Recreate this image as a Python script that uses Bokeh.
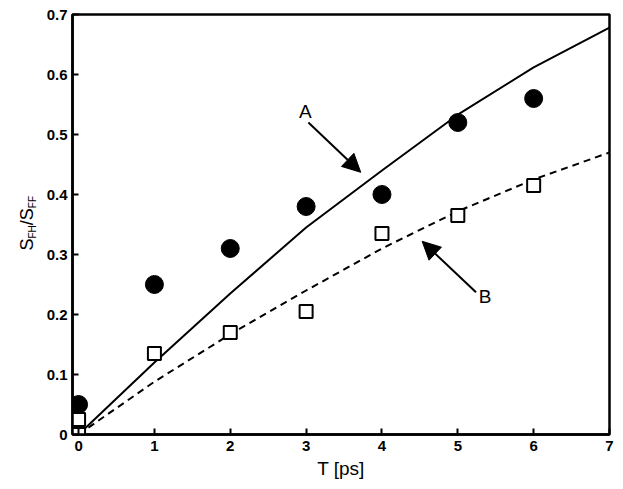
import math
from bokeh.plotting import figure
from bokeh.layouts import row
from bokeh.models import Range1d, FixedTicker, Label, Arrow, NormalHead
from bokeh.core.properties import value
from bokeh.embed import file_html
from bokeh.resources import INLINE

# model curves
t_model = [0, 1, 2, 3, 4, 5, 6, 7]
model_a = [0.0, 0.12, 0.235, 0.345, 0.44, 0.533, 0.612, 0.678]
model_b = [0.0, 0.088, 0.167, 0.24, 0.31, 0.372, 0.425, 0.47]

# measured points
t_circ = [0, 1, 2, 3, 4, 5, 6]
circ_vals = [0.05, 0.25, 0.31, 0.38, 0.40, 0.52, 0.56]
t_sq = [0, 0, 1, 2, 3, 4, 5, 6]
sq_vals = [0.0, 0.025, 0.135, 0.17, 0.205, 0.335, 0.365, 0.415]

x_ticks = [0, 1, 2, 3, 4, 5, 6, 7]
y_ticks = [0, 0.1, 0.2, 0.3, 0.4, 0.5, 0.6, 0.7]
y_tick_labels = ["0", "0.1", "0.2", "0.3", "0.4", "0.5", "0.6", "0.7"]

FONT = "Liberation Sans"
LAB_W = 43

# ---- main plot ----
p = figure(frame_width=537, frame_height=420,
           min_border_left=27, min_border_right=13, min_border_top=14, min_border_bottom=55,
           x_range=Range1d(-0.08, 7.0), y_range=Range1d(0, 0.7),
           output_backend="svg", toolbar_location=None)

p.grid.visible = False
p.outline_line_color = "black"
p.outline_line_width = 2.5
p.background_fill_color = "white"
p.border_fill_color = "white"

for ax in (p.xaxis[0], p.yaxis[0]):
    ax.axis_line_width = 2.5
    ax.major_tick_line_width = 2
    ax.major_tick_in = 6
    ax.major_tick_out = 0
    ax.minor_tick_line_color = None
    ax.major_label_text_font = FONT
    ax.major_label_text_font_size = "15px"
    ax.major_label_text_font_style = "bold"
    ax.major_label_text_color = "black"

p.xaxis.ticker = FixedTicker(ticks=x_ticks)
p.yaxis.ticker = FixedTicker(ticks=y_ticks)
p.yaxis.major_label_overrides = {v: s for v, s in zip(y_ticks, y_tick_labels)}
p.xaxis.major_label_standoff = 6
p.yaxis.major_label_standoff = 5

p.xaxis.axis_label = "T [ps]"
p.xaxis.axis_label_text_font = FONT
p.xaxis.axis_label_text_font_size = "19px"
p.xaxis.axis_label_text_font_style = "normal"
p.xaxis.axis_label_text_color = "black"
p.xaxis.axis_label_standoff = 4

# curves
p.line(t_model, model_a, line_color="black", line_width=2)
p.line(t_model, model_b, line_color="black", line_width=2, line_dash="7 5")

# points
p.scatter(t_circ, circ_vals, marker="circle", size=18, fill_color="black", line_color="black")
p.scatter(t_sq, sq_vals, marker="square", size=13, fill_color="white", line_color="black", line_width=2)

# arrows and labels
p.add_layout(Arrow(end=NormalHead(size=18, fill_color="black", line_color="black"),
                   x_start=3.03, y_start=0.52, x_end=3.72, y_end=0.437,
                   line_width=2, line_color="black"))
p.add_layout(Arrow(end=NormalHead(size=18, fill_color="black", line_color="black"),
                   x_start=5.24, y_start=0.237, x_end=4.53, y_end=0.322,
                   line_width=2, line_color="black"))
p.add_layout(Label(x=2.99, y=0.539, text="A", text_font=FONT, text_font_size="19px",
                   text_align="center", text_baseline="middle", text_color="black"))
p.add_layout(Label(x=5.36, y=0.2305, text="B", text_font=FONT, text_font_size="19px",
                   text_align="center", text_baseline="middle", text_color="black"))

# ---- y-axis title strip: S_FH / S_FF (rotated, centre-anchored pieces) ----
lab = figure(frame_width=LAB_W, frame_height=489, x_range=Range1d(0, LAB_W), y_range=Range1d(0, 489),
             min_border=0, output_backend="svg", toolbar_location=None)
lab.axis.visible = False
lab.grid.visible = False
lab.outline_line_color = None
lab.background_fill_color = "white"
lab.border_fill_color = "white"

pieces = ["S", "FH", "/", "S", "FF"]
sizes = ["18px", "10px", "18px", "18px", "10px"]
centre_x = [26.7, 31.8, 26.7, 26.7, 31.8]
advance = [12.0, 13.3, 5.0, 12.0, 12.2]
ys = []
yy = 489 - 236
for a in advance:
    ys.append(yy + a / 2.0)
    yy += a
for txt, fs, cx, yv in zip(pieces, sizes, centre_x, ys):
    lab.text(x=[cx], y=[yv], text=[txt], angle=math.pi / 2,
             text_font=value(FONT), text_font_size=value(fs),
             text_align="center", text_baseline="middle", text_color="black")

layout = row(lab, p, spacing=0)
open("out.html", "w").write(file_html(layout, INLINE))
